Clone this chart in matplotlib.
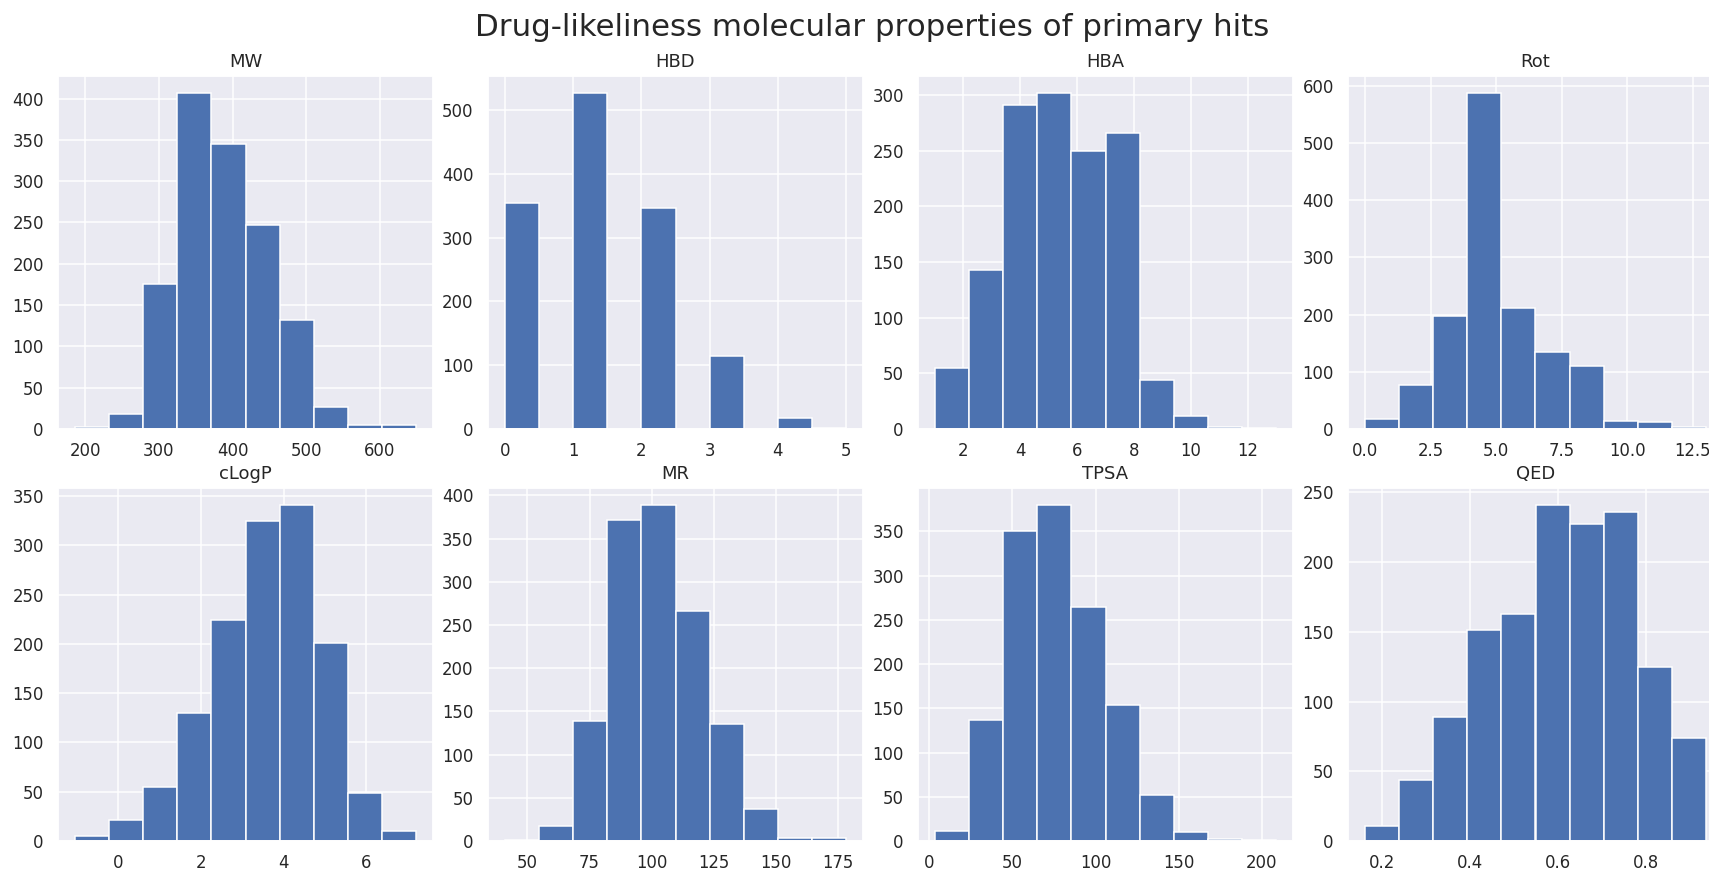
import numpy as np
import matplotlib
matplotlib.use("Agg")
import matplotlib.pyplot as plt
import seaborn as sns

sns.set_theme()

# property names, in drawing order
props = ["MW", "HBD", "HBA", "Rot", "cLogP", "MR", "TPSA", "QED"]

# (min, max) of each property
ranges = {
    "MW": (186.0, 649.0),
    "HBD": (0.0, 5.0),
    "HBA": (1.0, 13.0),
    "Rot": (0.0, 13.0),
    "cLogP": (-1.05, 7.2),
    "MR": (41.0, 178.2),
    "TPSA": (3.4, 208.6),
    "QED": (0.161, 0.937),
}

# counts in each of the 10 bins
mw_counts = [2, 18, 176, 407, 345, 247, 132, 27, 5, 5]
hbd_counts = [355, 0, 527, 0, 347, 0, 115, 0, 17, 2]
hba_counts = [55, 143, 291, 302, 250, 266, 44, 12, 2, 1]
rot_counts = [18, 77, 198, 588, 212, 135, 110, 14, 12, 3]
clogp_counts = [5, 21, 55, 130, 224, 325, 341, 201, 49, 10]
mr_counts = [1, 17, 139, 371, 389, 266, 135, 37, 3, 3]
tpsa_counts = [11, 137, 350, 380, 264, 154, 52, 10, 2, 1]
qed_counts = [11, 44, 89, 151, 163, 241, 227, 236, 125, 74]

counts = {
    "MW": mw_counts, "HBD": hbd_counts, "HBA": hba_counts, "Rot": rot_counts,
    "cLogP": clogp_counts, "MR": mr_counts, "TPSA": tpsa_counts, "QED": qed_counts,
}

W, H = 1709, 869
DPI = 108
fig = plt.figure(figsize=(W / DPI, H / DPI), dpi=DPI)

# axes boxes in pixels (the right column runs off the edge like the original)
col_left = [58, 488, 918, 1348]
row_top = [76, 488]
ax_w, ax_h = 375, 353

for i, name in enumerate(props):
    r, c = divmod(i, 4)
    left = col_left[c] / W
    bottom = 1 - (row_top[r] + ax_h) / H
    ax = fig.add_axes([left, bottom, ax_w / W, ax_h / H])
    lo, hi = ranges[name]
    edges = np.linspace(lo, hi, 11)
    ax.hist(edges[:-1], bins=edges, weights=counts[name], color="#4c72b0",
            edgecolor="white", linewidth=1)
    ax.set_title(name, fontsize=12)
    ax.tick_params(labelsize=11)
    ax.tick_params(axis="x", pad=2.5)

fig.suptitle("Drug-likeliness molecular properties of primary hits",
             fontsize=20.6, x=872 / W, y=1 - 27 / H, va="center")

fig.savefig("out.png", dpi=DPI)
